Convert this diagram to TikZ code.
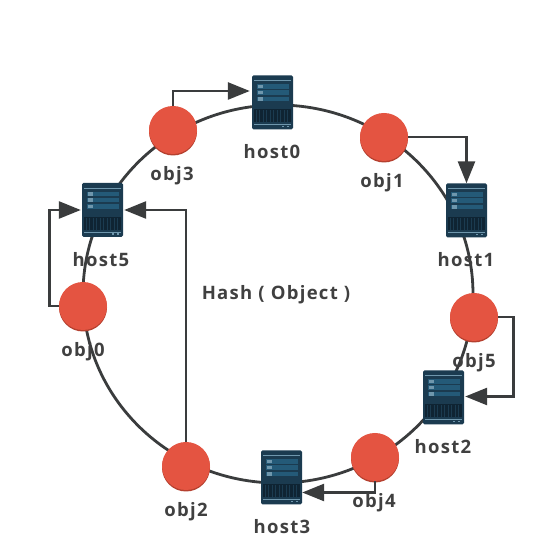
\documentclass[tikz,border=0pt]{standalone}
\usepackage{fontspec}
\setmainfont{Open Sans}
\usetikzlibrary{arrows.meta,calc}
\definecolor{ringc}{HTML}{3A3C3D}
\definecolor{objc}{HTML}{E45441}
\definecolor{objd}{HTML}{B5402F}
\definecolor{srvc}{HTML}{1B3B50}
\definecolor{srvd}{HTML}{0F2433}
\definecolor{srvp}{HTML}{245A78}
\definecolor{srvl}{HTML}{6F97AD}
\definecolor{txtc}{HTML}{404040}
\tikzset{
  ring/.style={draw=ringc,line width=2.8pt},
  conn/.style={draw=ringc,line width=2.7pt,-{Triangle[length=22pt,width=17pt]}},
  objnode/.style={circle,minimum size=48pt,inner sep=0pt,fill=objc},
  srvnode/.style={rectangle,rounded corners=1.5pt,minimum width=41pt,minimum height=54pt,inner sep=0pt,fill=srvc},
  lab/.style={text=txtc,font=\bfseries\fontsize{18.5}{20}\selectfont\addfontfeature{LetterSpace=7},inner sep=0pt},
}
\newcommand{\objat}[3]{%
  \fill[objd] (#3+0,#2+1.5) circle (24pt);
  \node[objnode] (#1) at (#3,#2) {};}
\newcommand{\srvat}[3]{%
  \node[srvnode] (#1) at (#3) {};
  \begin{scope}[shift={(#1.north west)}]
    \fill[srvl] (2,5) rectangle (39,5.8);
    \fill[srvp] (5,9) rectangle (37,13.5);
    \fill[srvp] (5,15) rectangle (37,19.5);
    \fill[srvp] (5,21.5) rectangle (37,26);
    \fill[srvl] (6,9.5) rectangle (11,13);
    \fill[srvl] (6,15.5) rectangle (11,19);
    \fill[srvl] (6,22) rectangle (11,25.5);
    \fill[srvd] (2,34) rectangle (39,47);
    \foreach \k in {4,7.5,...,37}{\fill[srvc] (\k,35) rectangle (\k+.8,47);}
    \fill[srvl] (2,49) rectangle (39,49.6);
    \fill[srvl] (30,50.5) rectangle (32,52);
    \fill[srvl] (35,50.5) rectangle (37,52);
  \end{scope}}
\begin{document}
\begin{tikzpicture}[x=1pt,y=-1pt]
\useasboundingbox (0,0) rectangle (550,545);
\fill[white] (0,0) rectangle (550,545);
\draw[ring] (278,294) ellipse [x radius=195,y radius=189];
\objat{obj3}{130}{173}
\objat{obj1}{137}{384}
\objat{obj5}{317}{474}
\objat{obj4}{457}{375}
\objat{obj2}{466}{186}
\objat{obj0}{306}{83}
\srvat{host0}{}{272.5,102.5}
\srvat{host1}{}{466.5,210.5}
\srvat{host5}{}{102.5,210}
\srvat{host2}{}{443.5,397.5}
\srvat{host3}{}{281.5,477.5}
\draw[conn] (obj3.north) |- ($(host0.west)+(-2,-11.5)$);
\draw[conn] (obj1.east) -| (host1.north);
\draw[conn] (obj5.east) -- ++(15,0) |- ($(host2.east)+(1,-1)$);
\draw[conn] (obj4.south) |- ($(host3.east)+(0,15)$);
\draw[conn] (obj2.north) |- ($(host5.east)+(1,0)$);
\draw[conn] (obj0.west) -- ++(-9,0) |- ($(host5.west)+(-1,0)$);
\node[lab] (t0) at (272,151.5) {host0};
\node[lab] (t1) at (466,259.5) {host1};
\node[lab] (t2) at (443,446.5) {host2};
\node[lab] (t3) at (282,526.5) {host3};
\node[lab] (t5) at (101,259.5) {host5};
\node[lab] (o0) at (83,351.5) {obj0};
\node[lab] (o1) at (382,182.5) {obj1};
\node[lab] (o2) at (186,511.5) {obj2};
\node[lab] (o3) at (172,175.5) {obj3};
\node[lab] (o4) at (374,502.5) {obj4};
\node[lab] (o5) at (474,362.5) {obj5};
\node[lab] (hash) at (276,294.5) {Hash ( Object )};
\end{tikzpicture}
\end{document}
